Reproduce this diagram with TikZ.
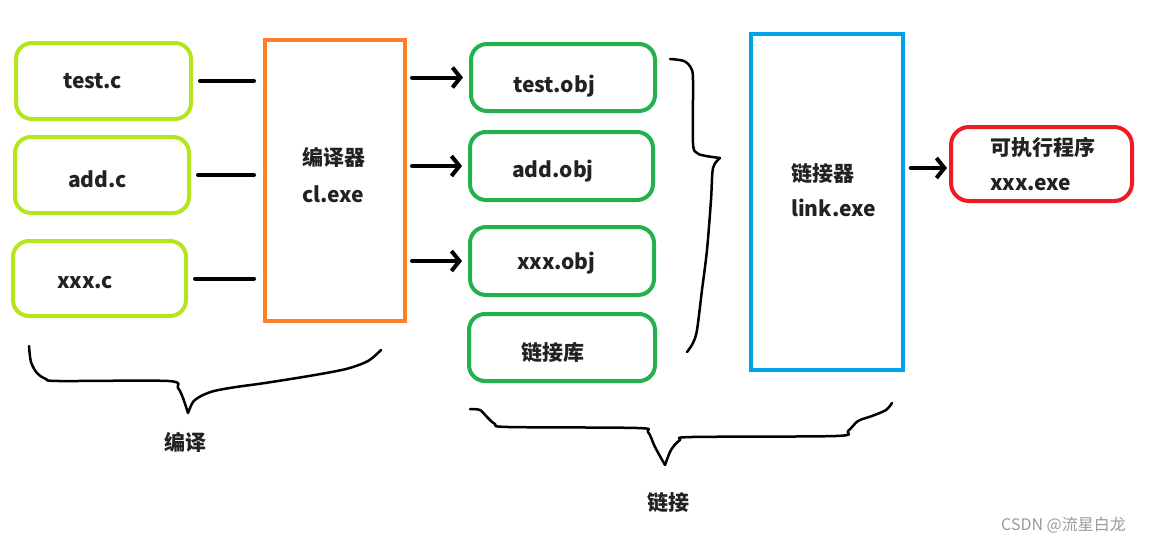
\documentclass[tikz,border=0pt]{standalone}
\usepackage{fontspec}
\setmainfont{Noto Sans CJK SC}
\usetikzlibrary{arrows.meta}
\definecolor{cLime}{HTML}{B5E61D}
\definecolor{cGreen}{HTML}{22B14C}
\definecolor{cOrange}{HTML}{FF7F27}
\definecolor{cBlue}{HTML}{00A2E8}
\definecolor{cRed}{HTML}{ED1C24}
\definecolor{cText}{HTML}{222222}
\definecolor{cMark}{HTML}{9A9A9A}
\begin{document}
\begin{tikzpicture}[x=1pt,y=-1pt,
  src/.style={draw=cLime,line width=4pt,rounded corners=16pt,minimum width=175pt,minimum height=76pt,inner sep=0pt},
  obj/.style={draw=cGreen,line width=4pt,rounded corners=16pt,minimum width=184pt,minimum height=68pt,inner sep=0pt},
  tool/.style={line width=4pt,inner sep=0pt},
  txt/.style={anchor=base west,inner sep=0pt,font=\bfseries\fontsize{21}{21}\selectfont,text=cText},
  link/.style={line width=4pt,line cap=round},
  arr/.style={line width=4pt,line cap=round,-{Straight Barb[length=8pt,width=20pt]}},
  brace/.style={line width=2.5pt,line join=round,line cap=round}]
\useasboundingbox (0,0) rectangle (1149,541);
\fill[white] (0,0) rectangle (1149,541);

% boxes
\node[src] (tc) at (103.5,81) {};
\node[src,minimum width=174pt] (ac) at (102,175) {};
\node[src,minimum width=173pt,minimum height=75pt] (xc) at (99.5,278.5) {};
\node[tool,draw=cOrange,minimum width=140pt,minimum height=281pt] (cl) at (335,180.5) {};
\node[obj,minimum height=67pt] (to) at (563,77.5) {};
\node[obj,minimum width=183pt] (ao) at (561.5,166) {};
\node[obj] (xo) at (562,261) {};
\node[obj,minimum width=186pt,minimum height=67pt] (lib) at (562,347.5) {};
\node[tool,draw=cBlue,line width=4.5pt,minimum width=152pt,minimum height=336pt] (lk) at (827,202) {};
\node[tool,draw=cRed,rounded corners=18pt,minimum width=181pt,minimum height=74pt] (exe) at (1041.5,164) {};

% texts
\node[txt] (tct) at (63,88) {test.c};
\node[txt] (act) at (68,187) {add.c};
\node[txt] (xct) at (57,288) {xxx.c};
\node[txt] (clt1) at (302,165.5) {编译器};
\node[txt] (clt2) at (302,202) {cl.exe};
\node[txt] (tot) at (513,92.5) {test.obj};
\node[txt] (aot) at (512,177) {add.obj};
\node[txt] (xot) at (517,269) {xxx.obj};
\node[txt] (libt) at (521,360) {链接库};
\node[txt] (lkt1) at (791,181.5) {链接器};
\node[txt] (lkt2) at (791,216.5) {link.exe};
\node[txt] (ext1) at (990,155) {可执行程序};
\node[txt] (ext2) at (990,190.5) {xxx.exe};
\node[txt,anchor=base] (bianyi) at (185,450) {编译};
\node[txt,anchor=base] (lianjie) at (668,510) {链接};
\node[anchor=base west,inner sep=0pt,font=\fontsize{16}{16}\selectfont,text=cMark] (wm) at (1001,530) {CSDN @流星白龙};

% connectors
\draw[link,shorten <=7pt,shorten >=9pt] (tc.east) -- (tc.east -| cl.west);
\draw[link,shorten <=7pt,shorten >=9pt] (ac.east) -- (ac.east -| cl.west);
\draw[link,shorten <=7pt,shorten >=9pt] (xc.east) -- (xc.east -| cl.west);
\draw[arr,shorten <=5pt,shorten >=6pt] (cl.east |- to.west) -- (to.west);
\draw[arr,shorten <=5pt,shorten >=6pt] (cl.east |- ao.west) -- (ao.west);
\draw[arr,shorten <=5pt,shorten >=6pt] (cl.east |- xo.west) -- (xo.west);
\draw[arr,shorten <=5.5pt,shorten >=2pt] ([yshift=-4pt]lk.east |- exe.west) -- ([yshift=-4pt]exe.west);

% braces
\draw[brace] plot[smooth,tension=0.5] coordinates {(670,59)(684,61)(691,68)(693,80)(693,143)(697,153)(706,156)(720,158)};
\draw[brace] plot[smooth,tension=0.5] coordinates {(720,158)(713,168)(711,200)(707,250)(702,290)(697,330)(693,343)(687,352)};
\draw[brace] plot[smooth,tension=0.5] coordinates {(29,346)(31,362)(37,373)(46,379)(59,381)(168,381)(178,388)(183,398)(188,413)};
\draw[brace] plot[smooth,tension=0.5] coordinates {(188,413)(193,402)(201,396)(214,391)(236,387)(265,383)(309,376)(346,369)(368,361)(381,350)};
\draw[brace] plot[smooth,tension=0.5] coordinates {(470,409)(480,410)(487,417)(495,424)(508,427)(637,428)(648,432)(655,447)(665,465)};
\draw[brace] plot[smooth,tension=0.5] coordinates {(665,465)(671,450)(680,440)(692,437)(836,436)(848,431)(858,421)(872,416)(886,410)(892,403)};
\end{tikzpicture}
\end{document}
